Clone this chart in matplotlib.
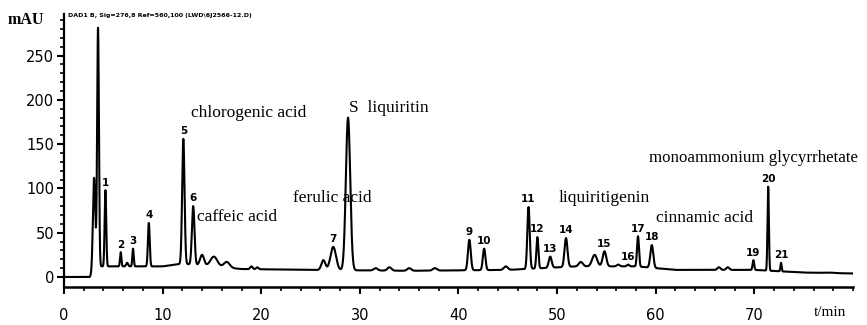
import matplotlib
matplotlib.use("Agg")
import matplotlib.pyplot as plt
import numpy as np

# peak table: retention time (min), apex (mAU), width (sigma, min)
peak_times = [3.05, 3.45, 4.2, 5.75, 6.4, 7.0, 8.6, 12.1, 13.1, 14.0, 15.2, 16.5,
              19.0, 19.6, 26.3, 27.3, 28.8, 31.6, 33.0, 35.0, 37.6,
              41.1, 42.6, 44.8, 47.1, 48.0, 49.3, 50.9, 52.4, 53.8,
              54.8, 56.2, 57.2, 58.2, 59.6, 66.4, 67.3, 69.9, 71.4, 72.7, 77.5]
peak_apex = [112, 281, 98, 28, 16, 32, 61, 156, 80, 25, 23, 17,
             12, 11, 19, 34, 180, 10, 11, 10, 10,
             42, 32, 12, 79, 45, 23, 44, 17, 25,
             29, 14, 14, 46, 36, 11, 11, 19, 102, 16, 5]
peak_sigma = [0.12, 0.09, 0.08, 0.07, 0.1, 0.07, 0.09, 0.12, 0.13, 0.2, 0.35, 0.3,
              0.12, 0.12, 0.2, 0.28, 0.22, 0.2, 0.2, 0.2, 0.2,
              0.14, 0.13, 0.2, 0.12, 0.1, 0.15, 0.15, 0.2, 0.25,
              0.18, 0.15, 0.12, 0.1, 0.15, 0.15, 0.15, 0.08, 0.07, 0.06, 0.4]

# baseline (mAU) at a few times
base_t = [0, 2.6, 3.6, 6, 10, 12, 18, 25, 35, 45, 52, 58, 62, 70, 75, 80]
base_v = [0, 0, 12, 12, 12, 15, 9, 8, 7, 8, 12, 12, 8, 8, 5, 4]

# numbered peaks
num_labels = ["1", "2", "3", "4", "5", "6", "7", "9", "10", "11", "12",
              "13", "14", "15", "16", "17", "18", "19", "20", "21"]
num_times = [4.2, 5.75, 7.0, 8.6, 12.1, 13.1, 27.3, 41.1, 42.6, 47.1, 48.0,
             49.3, 50.9, 54.8, 57.2, 58.2, 59.6, 69.9, 71.4, 72.7]
num_apex = [98, 28, 32, 61, 156, 80, 34, 42, 32, 79, 45,
            23, 44, 29, 14, 46, 36, 19, 102, 16]

# compound names: text, x (min), y (mAU), alignment
names = ["chlorogenic acid", "S  liquiritin", "ferulic acid", "caffeic acid",
         "liquiritigenin", "cinnamic acid", "monoammonium glycyrrhetate"]
name_x = [12.9, 28.9, 31.2, 13.5, 50.1, 60.0, 59.3]
name_y = [185, 191, 89, 68, 89, 67, 134]
name_ha = ["left", "left", "right", "left", "left", "left", "left"]
name_size = [12.5, 12.5, 12.5, 12.5, 12.5, 12.5, 12.2]

t = np.linspace(0, 80, 8001)
base = np.interp(t, base_t, base_v)
signal = base.copy()
for rt, apex, s in zip(peak_times, peak_apex, peak_sigma):
    h = apex - np.interp(rt, base_t, base_v)
    signal += h * np.exp(-0.5 * ((t - rt) / s) ** 2)

fig = plt.figure(figsize=(8.67, 3.25), dpi=100)
ax = fig.add_axes([64 / 867, 1 - 287 / 325, (853 - 64) / 867, (287 - 14) / 325])
ax.plot(t, signal, color="black", lw=1.5)
ax.set_xlim(0, 80)
ax.set_ylim(-11.3, 297)

for s in ["top", "right"]:
    ax.spines[s].set_visible(False)
ax.spines["left"].set_linewidth(1.6)
ax.spines["bottom"].set_linewidth(1.8)

ax.set_xticks(np.arange(0, 80, 10))
ax.set_xticks(np.arange(0, 81, 2), minor=True)
ax.set_yticks(np.arange(0, 251, 50))
ax.set_yticks(np.arange(0, 291, 10), minor=True)
ax.tick_params(axis="both", which="major", direction="out", length=5, width=1.5,
               labelsize=10.5)
ax.tick_params(axis="both", which="minor", direction="out", length=3, width=1.2)
ax.tick_params(axis="x", pad=10)
ax.tick_params(axis="y", pad=2)

for lab, x, y in zip(num_labels, num_times, num_apex):
    ax.text(x, y + 3, lab, ha="center", va="bottom", fontsize=7.5,
            fontweight="bold", family="DejaVu Sans")

for txt, x, y, ha, fs in zip(names, name_x, name_y, name_ha, name_size):
    ax.text(x, y, txt, ha=ha, va="center", fontsize=fs, family="Liberation Serif")

fig.text(8 / 867, 1 - 20 / 325, "mAU", fontsize=11.5, fontweight="bold",
         family="Liberation Serif", va="center")
fig.text(814 / 867, 1 - 313 / 325, "t/min", fontsize=11,
         family="Liberation Serif", va="center")
fig.text(68 / 867, 1 - 15 / 325, "DAD1 B, Sig=276,8 Ref=560,100 (LWD\\6J2566-12.D)",
         fontsize=4.5, fontweight="bold", va="center")

fig.savefig("out.png", dpi=100)
